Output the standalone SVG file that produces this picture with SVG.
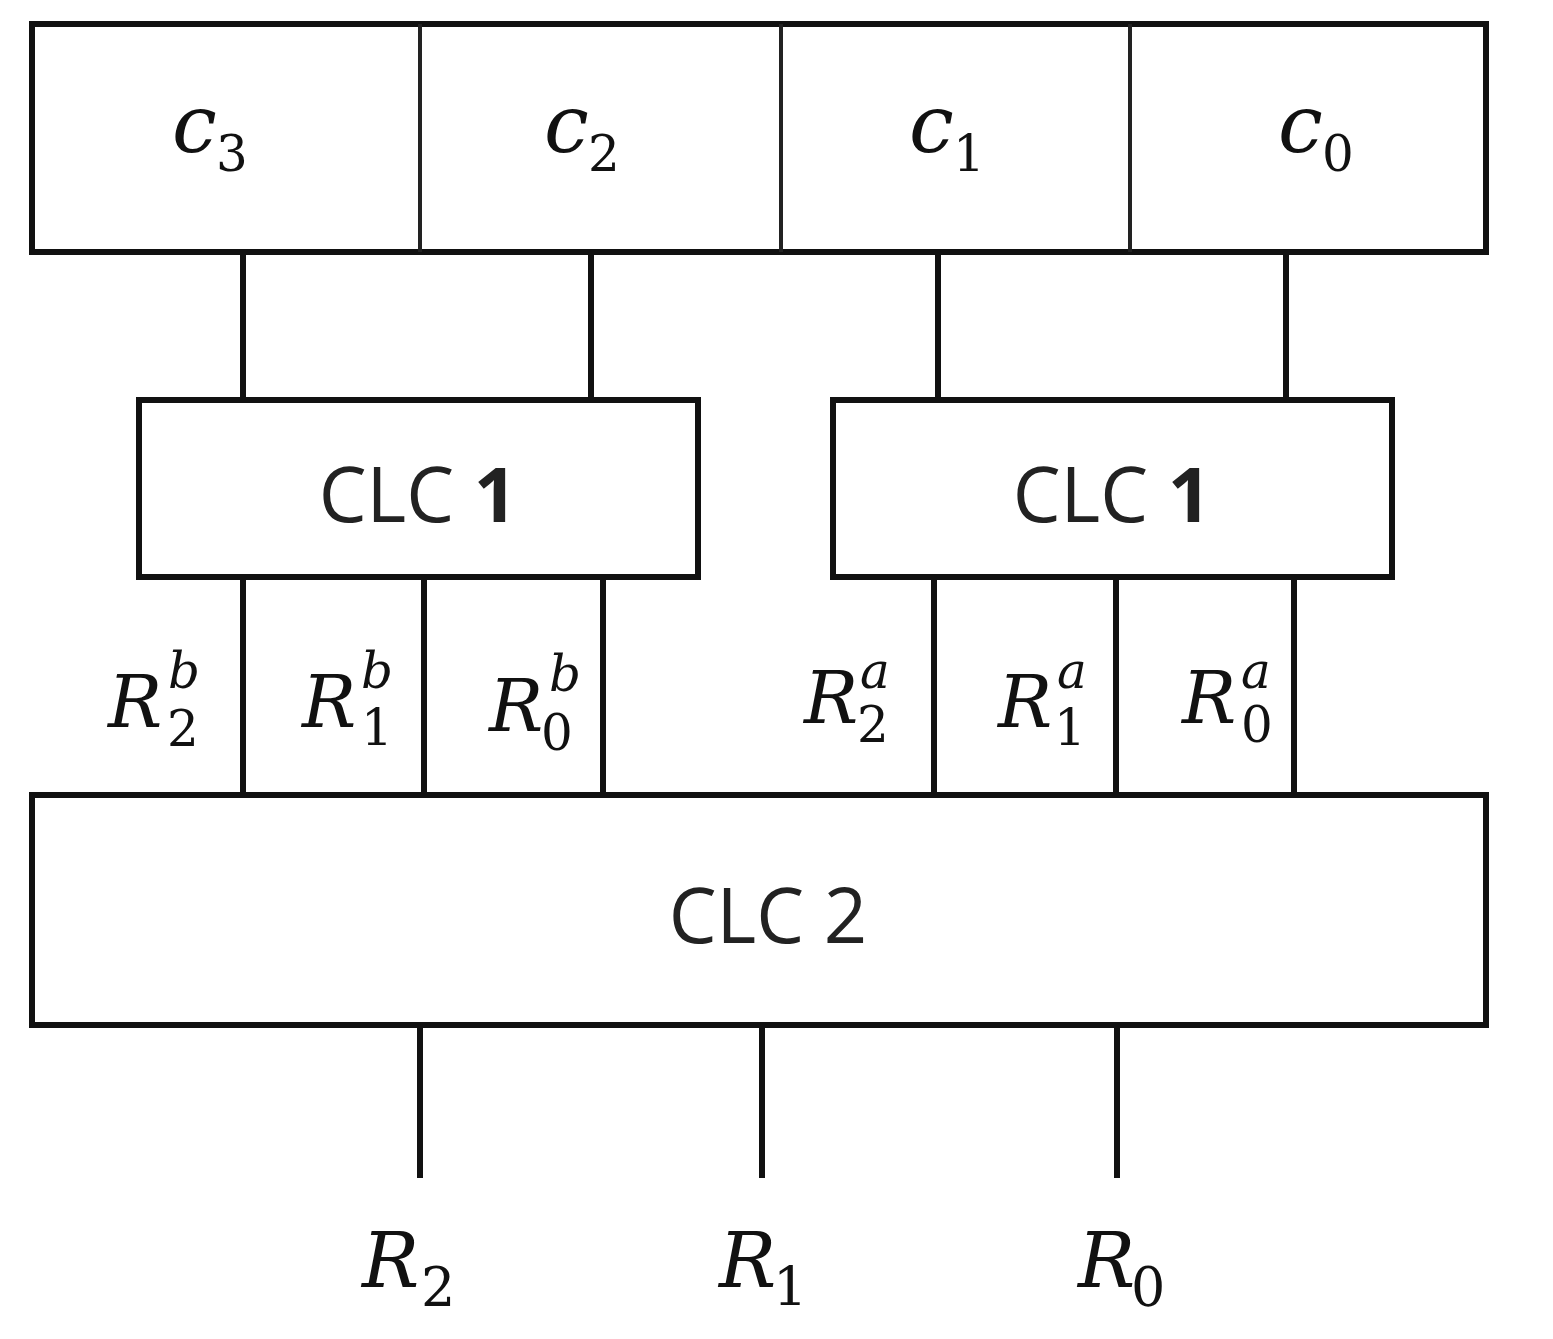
<svg xmlns="http://www.w3.org/2000/svg" width="1553" height="1339" viewBox="0 0 1553 1339">
<style>
.box{fill:#fff;stroke:#111;stroke-width:6}
.div{stroke:#222;stroke-width:4}
.wire{stroke:#111;stroke-width:6;fill:none}
.m{font-family:"DejaVu Serif","Liberation Serif",serif;font-style:italic;fill:#111}
.d{font-family:"DejaVu Serif","Liberation Serif",serif;font-style:normal;fill:#111}
.c{font-size:80px}
.r{font-size:72px}
.rb{font-size:76px}
.s{font-size:50px}
.sb{font-size:54px}
.clc{font-family:"Open Sans","DejaVu Sans",sans-serif;font-size:76px;fill:#222;text-anchor:middle}
</style>
<rect width="1553" height="1339" fill="#fff"/>
<g id="connectors">
<line class="wire" x1="243" y1="252" x2="243" y2="400"/>
<line class="wire" x1="591" y1="252" x2="591" y2="400"/>
<line class="wire" x1="938" y1="252" x2="938" y2="400"/>
<line class="wire" x1="1286" y1="252" x2="1286" y2="400"/>
<line class="wire" x1="243" y1="577" x2="243" y2="795"/>
<line class="wire" x1="424" y1="577" x2="424" y2="795"/>
<line class="wire" x1="603" y1="577" x2="603" y2="795"/>
<line class="wire" x1="934" y1="577" x2="934" y2="795"/>
<line class="wire" x1="1116" y1="577" x2="1116" y2="795"/>
<line class="wire" x1="1294" y1="577" x2="1294" y2="795"/>
<line class="wire" x1="420" y1="1025" x2="420" y2="1178"/>
<line class="wire" x1="762" y1="1025" x2="762" y2="1178"/>
<line class="wire" x1="1117" y1="1025" x2="1117" y2="1178"/>
</g>
<g id="register">
<rect class="box" x="32" y="24" width="1454" height="228"/>
<line class="div" x1="420" y1="24" x2="420" y2="252"/>
<line class="div" x1="781" y1="24" x2="781" y2="252"/>
<line class="div" x1="1130" y1="24" x2="1130" y2="252"/>
<text class="m c" x="172" y="152">c</text><text class="d s" x="216" y="171">3</text>
<text class="m c" x="544" y="152">c</text><text class="d s" x="588" y="171">2</text>
<text class="m c" x="909" y="152">c</text><text class="d s" x="953" y="171">1</text>
<text class="m c" x="1278" y="152">c</text><text class="d s" x="1322" y="171">0</text>
</g>
<g id="clc1-left">
<rect class="box" x="139" y="400" width="559" height="177"/>
<text class="clc" x="418" y="522">CLC <tspan font-weight="bold">1</tspan></text>
</g>
<g id="clc1-right">
<rect class="box" x="833" y="400" width="559" height="177"/>
<text class="clc" x="1112" y="522">CLC <tspan font-weight="bold">1</tspan></text>
</g>
<g id="labels-b">
<text class="m r" x="108" y="727">R</text><text class="m s" x="168" y="688">b</text><text class="d s" x="167" y="746">2</text>
<text class="m r" x="302" y="727">R</text><text class="m s" x="361" y="688">b</text><text class="d s" x="361" y="745">1</text>
<text class="m r" x="489" y="731">R</text><text class="m s" x="549" y="691">b</text><text class="d s" x="541" y="750">0</text>
</g>
<g id="labels-a">
<text class="m r" x="804" y="723">R</text><text class="m s" x="860" y="688">a</text><text class="d s" x="857" y="742">2</text>
<text class="m r" x="998" y="727">R</text><text class="m s" x="1057" y="688">a</text><text class="d s" x="1054" y="745">1</text>
<text class="m r" x="1182" y="723">R</text><text class="m s" x="1241" y="688">a</text><text class="d s" x="1241" y="742">0</text>
</g>
<g id="clc2">
<rect class="box" x="32" y="795" width="1454" height="230"/>
<text class="clc" x="768" y="943">CLC 2</text>
</g>
<g id="outputs">
<text class="m rb" x="362" y="1287">R</text><text class="d sb" x="421" y="1306">2</text>
<text class="m rb" x="719" y="1287">R</text><text class="d sb" x="773" y="1306">1</text>
<text class="m rb" x="1078" y="1287">R</text><text class="d sb" x="1131" y="1306">0</text>
</g>
</svg>
